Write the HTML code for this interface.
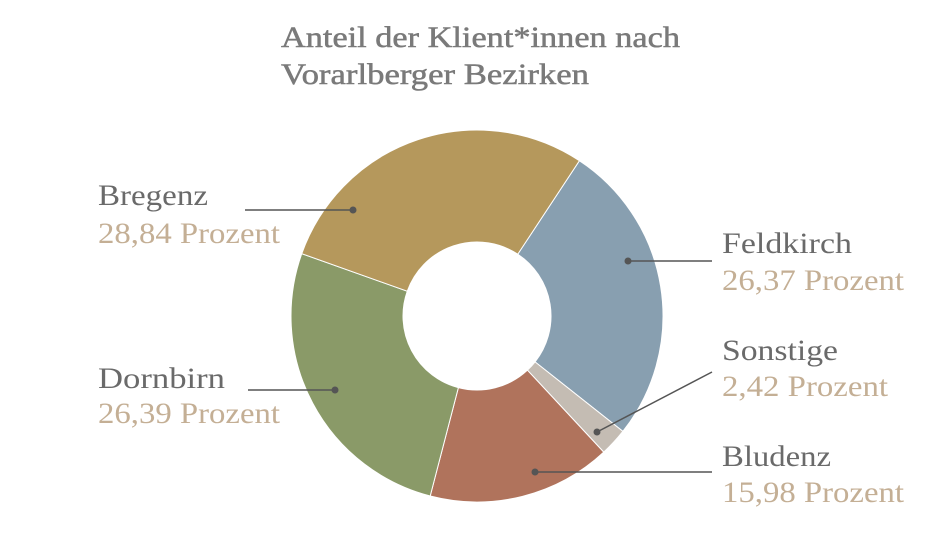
<!DOCTYPE html>
<html><head><meta charset="utf-8"><style>
html,body{margin:0;padding:0;background:#fff;}
svg{display:block}
text{font-family:"Liberation Serif",serif;}
.t{fill:#7a7a7a;font-size:30px;stroke:#7a7a7a;stroke-width:0.5}
.n{fill:#6a6a6a;font-size:30px}
.p{fill:#c4af95;font-size:30px}
</style></head><body>
<svg id="s" width="936" height="548" viewBox="0 0 936 548">
<text class="t" x="281" y="47" textLength="399" lengthAdjust="spacingAndGlyphs">Anteil der Klient*innen nach</text>
<text class="t" x="281" y="84" textLength="308" lengthAdjust="spacingAndGlyphs">Vorarlberger Bezirken</text>
<g id="pie"></g>
<g stroke="#555" stroke-width="1.5" fill="none">
<line x1="245" y1="210" x2="353" y2="210"/>
<line x1="628" y1="261" x2="712" y2="261"/>
<line x1="597" y1="432" x2="712" y2="372"/>
<line x1="535" y1="472" x2="712" y2="472"/>
<line x1="248" y1="390" x2="335" y2="390"/>
</g>
<g fill="#555">
<circle cx="353" cy="210" r="3.5"/><circle cx="628" cy="261" r="3.5"/>
<circle cx="597" cy="432" r="3.5"/><circle cx="535" cy="472" r="3.5"/>
<circle cx="335" cy="390" r="3.5"/>
</g>
<text class="n" x="98" y="205" textLength="110" lengthAdjust="spacingAndGlyphs">Bregenz</text>
<text class="p" x="98" y="243" textLength="182" lengthAdjust="spacingAndGlyphs">28,84 Prozent</text>
<text class="n" x="98" y="388" textLength="127" lengthAdjust="spacingAndGlyphs">Dornbirn</text>
<text class="p" x="98" y="423" textLength="182" lengthAdjust="spacingAndGlyphs">26,39 Prozent</text>
<text class="n" x="722" y="253" textLength="130" lengthAdjust="spacingAndGlyphs">Feldkirch</text>
<text class="p" x="722" y="290" textLength="182" lengthAdjust="spacingAndGlyphs">26,37 Prozent</text>
<text class="n" x="722" y="360" textLength="116" lengthAdjust="spacingAndGlyphs">Sonstige</text>
<text class="p" x="722" y="396" textLength="166" lengthAdjust="spacingAndGlyphs">2,42 Prozent</text>
<text class="n" x="722" y="466" textLength="109" lengthAdjust="spacingAndGlyphs">Bludenz</text>
<text class="p" x="722" y="502" textLength="182" lengthAdjust="spacingAndGlyphs">15,98 Prozent</text>
</svg>
<script>
var cx=477,cy=316,R=186,r=74;
var d=[[26.37,"#889fb0"],[2.42,"#c4bcb3"],[15.98,"#b0735c"],[26.39,"#8a9a68"],[28.84,"#b5985c"]];
var a=33.4,g=document.getElementById("pie"),h="";
function pt(ang,rad){var t=ang*Math.PI/180;return (cx+rad*Math.sin(t)).toFixed(2)+","+(cy-rad*Math.cos(t)).toFixed(2);}
d.forEach(function(s){var b=a+s[0]*3.6,l=(b-a)>180?1:0;
h+='<path fill="'+s[1]+'" stroke="#fff" stroke-width="1" d="M'+pt(a,R)+' A'+R+','+R+' 0 '+l+' 1 '+pt(b,R)+' L'+pt(b,r)+' A'+r+','+r+' 0 '+l+' 0 '+pt(a,r)+' Z"/>';a=b;});
g.innerHTML=h;
</script>
</body></html>
